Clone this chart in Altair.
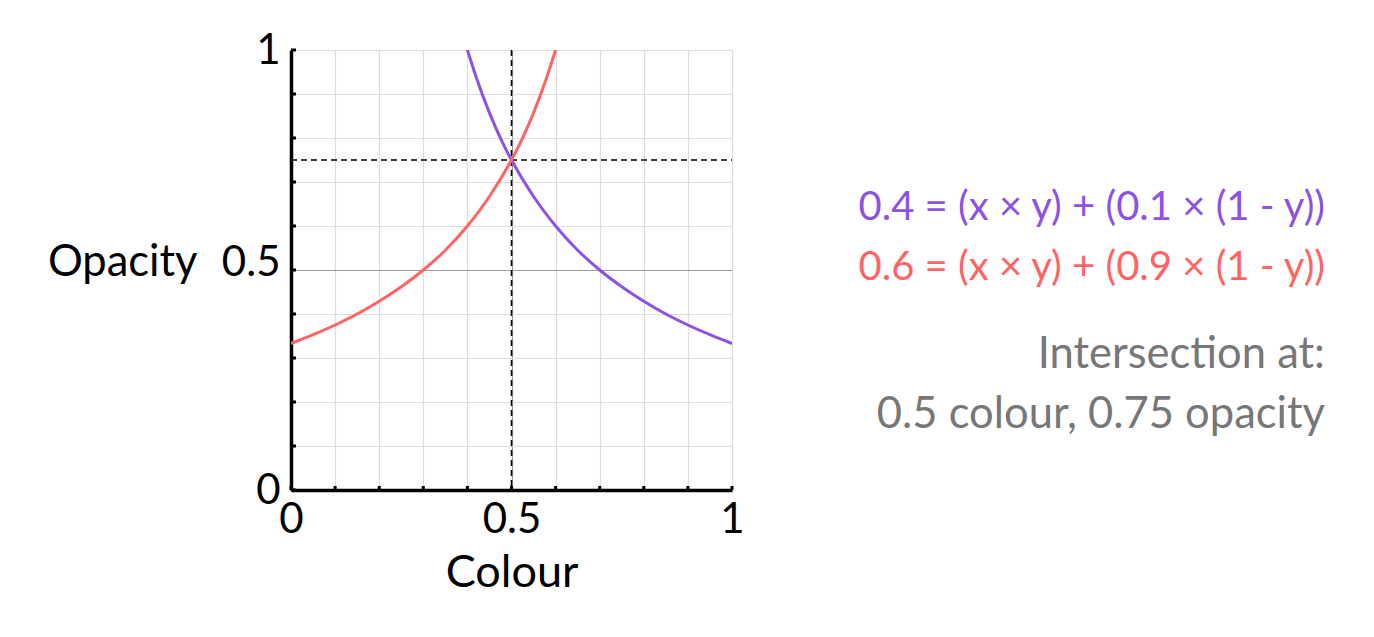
import altair as alt
import pandas as pd

# --- data ---
purple_x = [0.40, 0.42, 0.45, 0.48, 0.50, 0.55, 0.60, 0.65, 0.70, 0.75, 0.80, 0.85, 0.90, 0.95, 1.00]
purple_y = [1.000, 0.938, 0.857, 0.789, 0.750, 0.667, 0.600, 0.545, 0.500, 0.462, 0.429, 0.400, 0.375, 0.353, 0.333]
red_x = [0.00, 0.05, 0.10, 0.15, 0.20, 0.25, 0.30, 0.35, 0.40, 0.45, 0.50, 0.52, 0.55, 0.58, 0.60]
red_y = [0.333, 0.353, 0.375, 0.400, 0.429, 0.462, 0.500, 0.545, 0.600, 0.667, 0.750, 0.789, 0.857, 0.938, 1.000]
cross_x = 0.5
cross_y = 0.75
tick_values = [0, 0.1, 0.2, 0.3, 0.4, 0.5, 0.6, 0.7, 0.8, 0.9, 1.0]
label_values = [0, 0.5, 1]
eq_lines = ["0.4 = (x × y) + (0.1 × (1 - y))", "0.6 = (x × y) + (0.9 × (1 - y))"]
note_lines = ["Intersection at:", "0.5 colour, 0.75 opacity"]

PURPLE = "#8B52E3"
RED = "#FF6464"
GRAY = "#777777"
FONT = "Lato"

W, H = 441, 440

xs = alt.Scale(domain=[0, 1], nice=False, zero=False)
ys = alt.Scale(domain=[0, 1], nice=False, zero=False)

grid_color = {"condition": {"test": "datum.value == 0.5", "value": "#9a9a9a"}, "value": "#dddddd"}
label_expr = "(datum.value == 0 || datum.value == 0.5 || datum.value == 1) ? datum.label : ''"

x_axis = alt.Axis(
    values=tick_values, format="~g",
    labelExpr=label_expr,
    labelFontSize=42, labelFont=FONT, labelColor="black", labelPadding=9,
    labelOverlap=False, labelFlush=False,
    title="Colour", titleFontSize=45, titleFont=FONT, titleFontWeight="normal", titleColor="black",
    titlePadding=10,
    ticks=False, domainColor="black", domainWidth=3.5,
    grid=True, gridColor=grid_color, gridWidth=1.2,
)
y_axis = alt.Axis(
    values=tick_values, format="~g",
    labelExpr=label_expr,
    labelFontSize=42, labelFont=FONT, labelColor="black", labelPadding=11,
    labelOverlap=False, labelFlush=False, labelBaseline="middle",
    labelOffset={"condition": {"test": "datum.value == 0.5", "value": -8}, "value": 0},
    title="Opacity", titleFontSize=43.5, titleFont=FONT, titleFontWeight="normal", titleColor="black",
    titleAngle=0, titleAlign="right", titleBaseline="middle", titleX=-94, titleY=H / 2 - 8,
    ticks=False, domainColor="black", domainWidth=3.5,
    grid=True, gridColor=grid_color, gridWidth=1.2,
)

curves = pd.DataFrame(
    {"x": purple_x + red_x, "y": purple_y + red_y,
     "s": ["purple"] * len(purple_x) + ["red"] * len(red_x)}
)

base = alt.Chart(curves).mark_line(strokeWidth=3, interpolate="monotone", clip=True).encode(
    x=alt.X("x:Q", scale=xs, axis=x_axis),
    y=alt.Y("y:Q", scale=ys, axis=y_axis),
    color=alt.Color("s:N", scale=alt.Scale(domain=["purple", "red"], range=[PURPLE, RED]), legend=None),
    detail="s:N",
)

ticks_df = pd.DataFrame({"v": tick_values})
x_ticks = alt.Chart(ticks_df).mark_rule(color="black", strokeWidth=3).encode(
    x=alt.X("v:Q", scale=xs), y=alt.value(H), y2=alt.value(H - 4)
)
y_ticks = alt.Chart(ticks_df).mark_rule(color="black", strokeWidth=3).encode(
    y=alt.Y("v:Q", scale=ys), x=alt.value(0), x2=alt.value(5)
)

cross = pd.DataFrame({"cx": [cross_x], "cy": [cross_y]})
vline = alt.Chart(cross).mark_rule(color="black", strokeWidth=1.6, strokeDash=[6, 4]).encode(
    x=alt.X("cx:Q", scale=xs), y=alt.value(0), y2=alt.value(H)
)
hline = alt.Chart(cross).mark_rule(color="black", strokeWidth=1.6, strokeDash=[6, 4]).encode(
    y=alt.Y("cy:Q", scale=ys), x=alt.value(0), x2=alt.value(W)
)

RIGHT_X = 1325 - 291
texts = []
for txt, col, yy, fs in [
    (eq_lines[0], PURPLE, 158, 40),
    (eq_lines[1], RED, 218, 40),
    (note_lines[0], GRAY, 305, 43.5),
    (note_lines[1], GRAY, 365, 43.5),
]:
    texts.append(
        alt.Chart(pd.DataFrame({"t": [txt]})).mark_text(
            align="right", baseline="middle", fontSize=fs, font=FONT, color=col
        ).encode(text="t:N", x=alt.value(RIGHT_X), y=alt.value(yy))
    )

chart = alt.layer(vline, hline, base, x_ticks, y_ticks, *texts).properties(
    width=W, height=H,
    autosize=alt.AutoSizeParams(type="none"),
    padding={"left": 283, "top": 42, "right": 1374 - 16 - 283 - W, "bottom": 637 - 16 - 42 - H},
).configure_view(stroke="#9a9a9a", strokeWidth=1.5).configure(background="white")

chart.save("out.html", embed_options={"renderer": "svg", "actions": False})
